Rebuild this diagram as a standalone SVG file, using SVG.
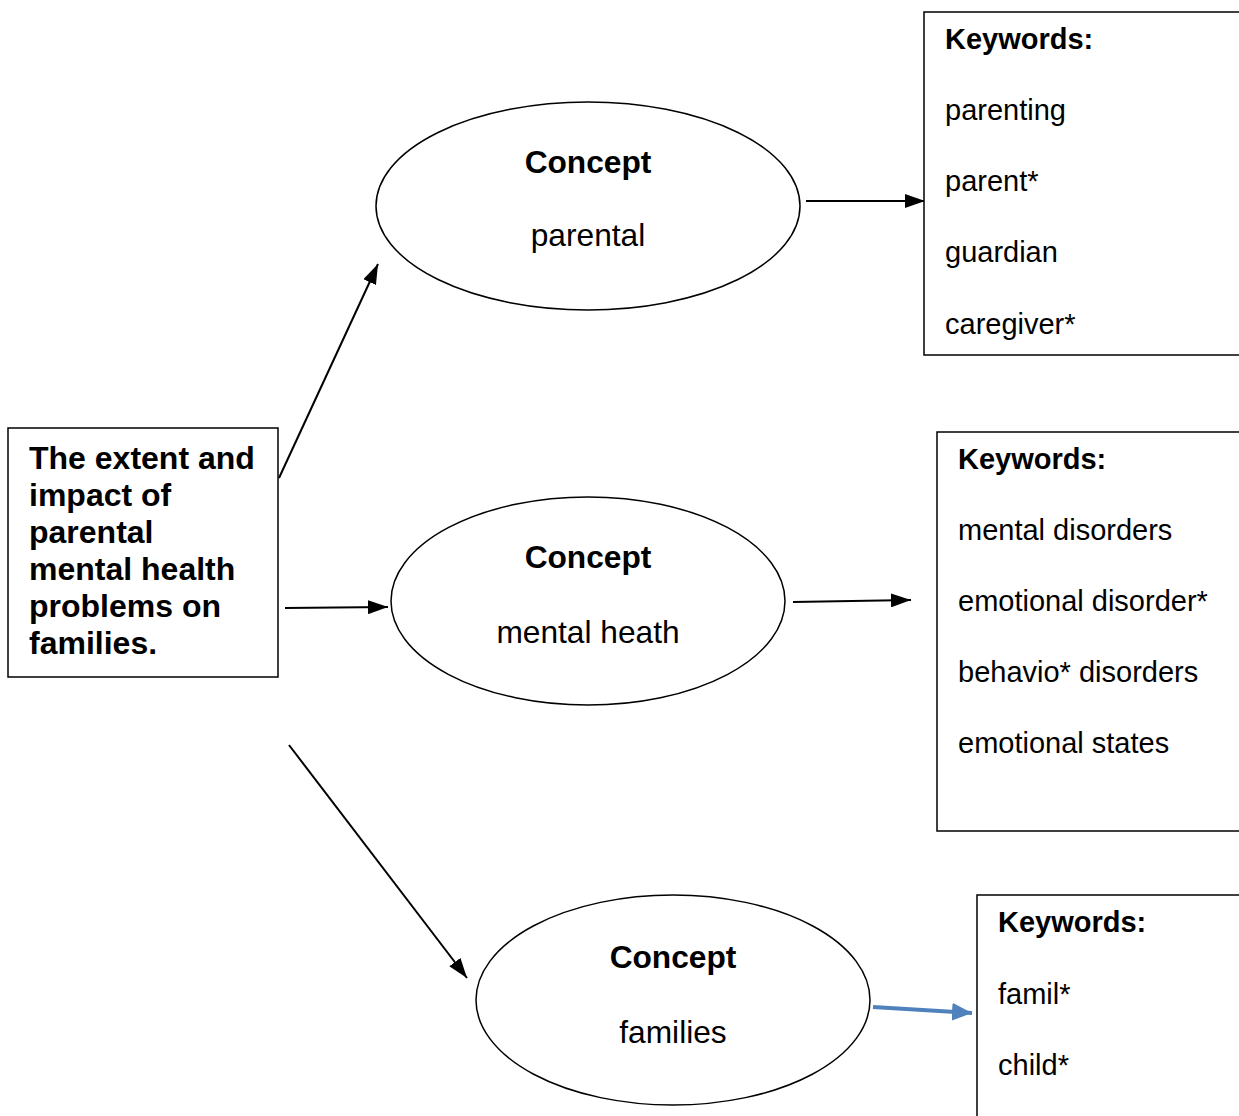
<svg xmlns="http://www.w3.org/2000/svg" width="1239" height="1116" viewBox="0 0 1239 1116">
<style>
.box{fill:#fff;stroke:#000;stroke-width:1.5}
.ell{fill:#fff;stroke:#000;stroke-width:1.5}
.t{font-family:"Liberation Sans",Arial,sans-serif;font-size:29px;fill:#000}
.ce{font-family:"Liberation Sans",Arial,sans-serif;font-size:31.7px;fill:#000;text-anchor:middle}
.b{font-weight:bold}
.main{font-family:"Liberation Sans",Arial,sans-serif;font-size:32px;font-weight:bold;fill:#000}
.ln{stroke:#000;stroke-width:2;fill:none}
.blue{stroke:#4F81BD;stroke-width:4;fill:none}
</style>
<defs>
<marker id="ahs" viewBox="0 0 10 10" refX="10" refY="5" markerWidth="20" markerHeight="14" markerUnits="userSpaceOnUse" orient="auto" preserveAspectRatio="none">
<path d="M0,0 L10,5 L0,10 Z" fill="#000"/>
</marker>
<marker id="ahb" viewBox="0 0 10 10" refX="10" refY="5" markerWidth="20" markerHeight="18" markerUnits="userSpaceOnUse" orient="auto" preserveAspectRatio="none">
<path d="M0,0 L10,5 L0,10 Z" fill="#4F81BD"/>
</marker>
</defs>
<g id="connectors">
<line class="ln" x1="279" y1="478" x2="378" y2="264" marker-end="url(#ahs)"/>
<line class="ln" x1="285" y1="608" x2="388" y2="607" marker-end="url(#ahs)"/>
<line class="ln" x1="289" y1="745" x2="467" y2="978" marker-end="url(#ahs)"/>
<line class="ln" x1="806" y1="201" x2="925" y2="201" marker-end="url(#ahs)"/>
<line class="ln" x1="793" y1="602" x2="911" y2="600" marker-end="url(#ahs)"/>
<line class="blue" x1="873" y1="1007" x2="972" y2="1013" marker-end="url(#ahb)"/>
</g>
<g id="topic">
<rect class="box" x="8" y="428" width="270" height="249"/>
<text class="main" x="29" y="469">The extent and</text>
<text class="main" x="29" y="506">impact of</text>
<text class="main" x="29" y="543">parental</text>
<text class="main" x="29" y="580">mental health</text>
<text class="main" x="29" y="617">problems on</text>
<text class="main" x="29" y="654">families.</text>
</g>
<g id="concept-parental">
<ellipse class="ell" cx="588" cy="206" rx="212" ry="104"/>
<text class="ce b" x="588" y="173">Concept</text>
<text class="ce" x="588" y="246">parental</text>
</g>
<g id="concept-mental">
<ellipse class="ell" cx="588" cy="601" rx="197" ry="104"/>
<text class="ce b" x="588" y="568">Concept</text>
<text class="ce" x="588" y="643">mental heath</text>
</g>
<g id="concept-families">
<ellipse class="ell" cx="673" cy="1000" rx="197" ry="105"/>
<text class="ce b" x="673" y="968">Concept</text>
<text class="ce" x="673" y="1043">families</text>
</g>
<g id="keywords-1">
<rect class="box" x="924" y="12" width="330" height="343"/>
<text class="t b" x="945" y="49">Keywords:</text>
<text class="t" x="945" y="120">parenting</text>
<text class="t" x="945" y="191">parent*</text>
<text class="t" x="945" y="262">guardian</text>
<text class="t" x="945" y="334">caregiver*</text>
</g>
<g id="keywords-2">
<rect class="box" x="937" y="432" width="320" height="399"/>
<text class="t b" x="958" y="469">Keywords:</text>
<text class="t" x="958" y="540">mental disorders</text>
<text class="t" x="958" y="611">emotional disorder*</text>
<text class="t" x="958" y="682">behavio* disorders</text>
<text class="t" x="958" y="753">emotional states</text>
</g>
<g id="keywords-3">
<rect class="box" x="977" y="895" width="300" height="260"/>
<text class="t b" x="998" y="932">Keywords:</text>
<text class="t" x="998" y="1004">famil*</text>
<text class="t" x="998" y="1075">child*</text>
</g>
</svg>
